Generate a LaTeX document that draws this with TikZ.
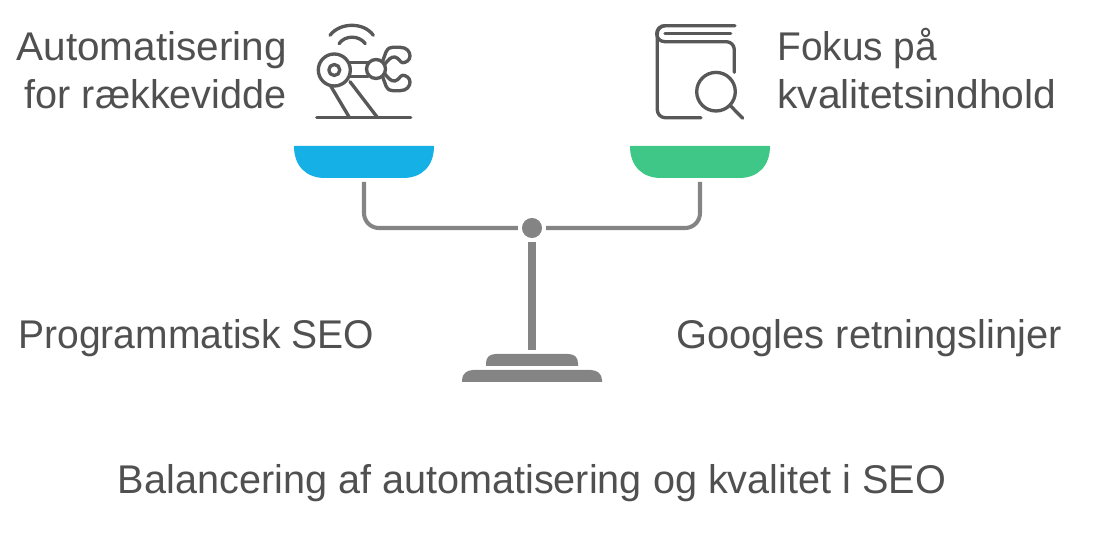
\documentclass[tikz,border=0pt]{standalone}
\usepackage{fontspec}
\setmainfont{Liberation Sans}
\definecolor{textgray}{HTML}{505050}
\definecolor{icongray}{HTML}{585858}
\definecolor{scalegray}{HTML}{848484}
\definecolor{panblue}{HTML}{14B0E6}
\definecolor{pangreen}{HTML}{3EC786}
\newcommand{\fitw}[2]{\scalebox{#1}[1]{#2}}
\tikzset{
  label text/.style={color=textgray, inner sep=0pt, font=\fontsize{22.8pt}{27.3pt}\selectfont},
  icon line/.style={color=icongray, line width=1.9pt, line cap=round, line join=round},
  scale line/.style={color=scalegray, line width=2.3pt},
  scale fill/.style={fill=scalegray, draw=none}
}
\begin{document}
\begin{tikzpicture}[x=0.02cm, y=-0.02cm]
\useasboundingbox (0,0) rectangle (1112,540);

\fill[panblue] (294,146) -- (434,146) .. controls (434,166) and (422,178) .. (403,178) -- (325,178) .. controls (306,178) and (294,166) .. (294,146) -- cycle;
\fill[pangreen] (630,146) -- (770,146) .. controls (770,166) and (758,178) .. (739,178) -- (661,178) .. controls (642,178) and (630,166) .. (630,146) -- cycle;

\node[scale fill, circle, minimum size=11.4pt, inner sep=0pt, outer sep=2.3pt] (pivot) at (532,228) {};
\coordinate (bluestem) at (364,182);
\coordinate (greenstem) at (700,182);
\coordinate (posttop) at (532,242);
\coordinate (postfoot) at (532,350);

\draw[scale line, rounded corners=8.5pt] (bluestem) |- (pivot.west);
\draw[scale line, rounded corners=8.5pt] (greenstem) |- (pivot.east);
\draw[scale line, line width=4.6pt] (posttop) -- (postfoot);

\fill[scalegray] (486,366) -- (486,363) .. controls (486,357) and (490,354) .. (496,354) -- (568,354) .. controls (574,354) and (578,357) .. (578,363) -- (578,366) -- cycle;
\fill[scalegray] (462,382) -- (462,380) .. controls (462,374) and (467,370) .. (473,370) -- (591,370) .. controls (597,370) and (602,374) .. (602,380) -- (602,382) -- cycle;

\draw[icon line] (330,35.3) .. controls (340,22) and (364,22) .. (373.3,35.3);
\draw[icon line] (339,43.7) .. controls (345,35) and (359,35) .. (365.3,43.7);
\draw[icon line] (316.7,117.3) -- (410.7,117.3);
\draw[icon line] (334.3,70) circle (16);
\draw[icon line] (334.3,70) circle (5.5);
\draw[icon line] (376,69) circle (9.5);
\draw[icon line] (349,62.3) -- (368,62.3);
\draw[icon line] (349,76.7) -- (368,76.7);
\draw[icon line] (330.7,86) -- (349.3,117.3);
\draw[icon line] (350,81.7) -- (377.3,117.3);
\draw[icon line] (382.7,61) -- (386,52) .. controls (388,48) and (390,47.3) .. (393,47.3) -- (400,47.3) .. controls (407,47.3) and (410,52) .. (410,56) .. controls (410,60) and (406,62.7) .. (403,62.7) .. controls (400,62.7) and (399,58) .. (395,57) .. controls (391,56.5) and (388,60) .. (385,64);
\draw[icon line] (382.7,77) -- (386,86) .. controls (388,90) and (390,90.7) .. (393,90.7) -- (400,90.7) .. controls (407,90.7) and (410,86) .. (410,82) .. controls (410,78) and (406,75.3) .. (403,75.3) .. controls (400,75.3) and (399,80) .. (395,81) .. controls (391,81.5) and (388,78) .. (385,74);

\draw[icon line, rounded corners=4.5pt] (735,25.7) -- (657.3,25.7) -- (657.3,117.7) -- (701,117.7);
\draw[icon line] (730.7,33.7) -- (665,33.7);
\draw[icon line] (665,25.7) .. controls (654,25.7) and (654,41.7) .. (665,41.7);
\draw[icon line, rounded corners=4.5pt] (665,41.7) -- (734.3,41.7) -- (734.3,72.3);
\draw[icon line] (716,91.7) circle (19.3);
\draw[icon line] (730.7,106) -- (742.7,118.3);

\node[label text, anchor=base east] (autotop) at (287,61) {\fitw{1.011}{Automatisering}};
\node[label text, anchor=base east] (autobottom) at (287,109) {\fitw{0.989}{for rækkevidde}};
\node[label text, anchor=base west] (fokustop) at (777,61) {\fitw{0.97}{Fokus på}};
\node[label text, anchor=base west] (fokusbottom) at (777,109) {\fitw{1.018}{kvalitetsindhold}};
\node[label text, anchor=base west] (progseo) at (18,349) {\fitw{0.975}{Programmatisk SEO}};
\node[label text, anchor=base west] (google) at (676,349) {\fitw{0.995}{Googles retningslinjer}};
\node[label text, anchor=base] (caption) at (532,493) {\fitw{0.989}{Balancering af automatisering og kvalitet i SEO}};

\end{tikzpicture}
\end{document}
